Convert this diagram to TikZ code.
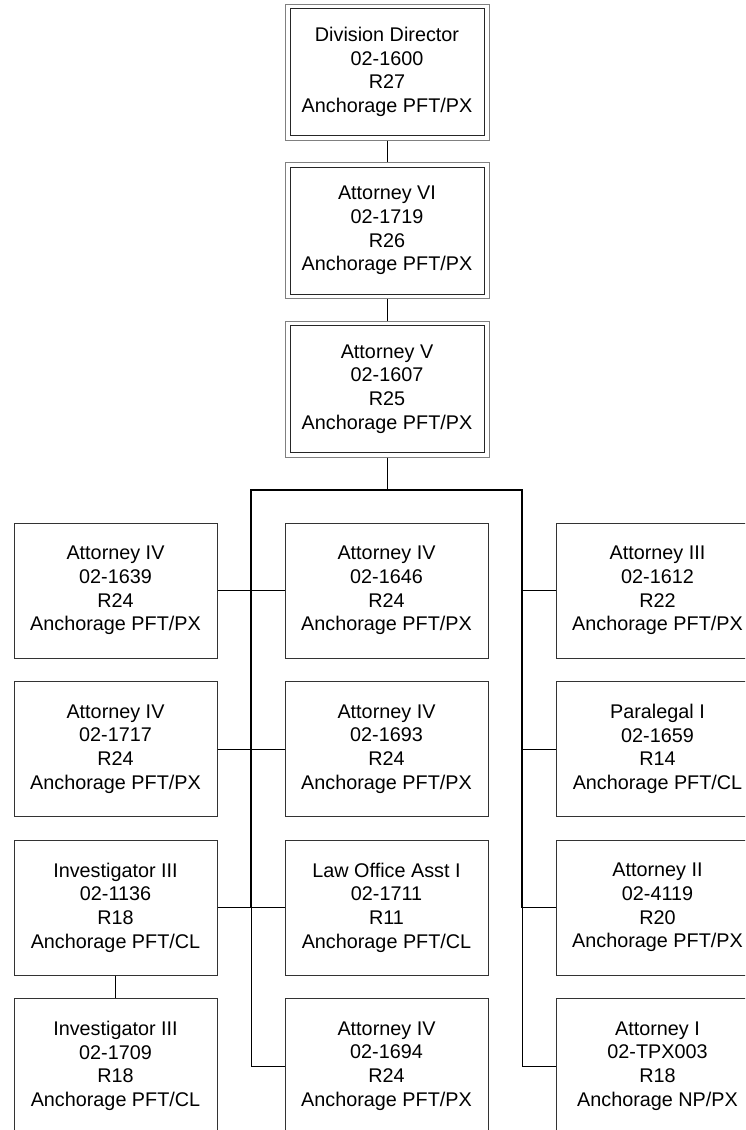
\documentclass[tikz,border=0pt]{standalone}
\usepackage{fontspec}
\setmainfont{Liberation Sans}
\begin{document}
\begin{tikzpicture}[x=1pt,y=-1pt,
  lbl/.style={font=\fontsize{19.8}{23.6}\selectfont, align=center, inner sep=0pt},
  posbox/.style={lbl, draw=black!80, line width=1pt, minimum width=203pt, minimum height=135pt},
  innerbox/.style={lbl, draw=black!85, line width=1pt, minimum width=194pt, minimum height=127pt},
  outerbox/.style={draw=black!50, line width=1pt, minimum width=204pt, minimum height=136pt, inner sep=0pt},
  conn/.style={draw=black, line width=0.9pt},
  bus/.style={draw=black, line width=1.8pt},
  busb/.style={draw=black, line width=1.4pt},
  busc/.style={draw=black, line width=1.1pt}]
\useasboundingbox (0,0) rectangle (745,1130);
\fill[white] (0,0) rectangle (745,1130);
\clip (0,0) rectangle (745,1130);

% top chain
\node[outerbox] (o1) at (387,72) {};
\node[innerbox] (a1) at (387,72) {Division Director\\02-1600\\R27\\Anchorage PFT/PX};
\node[outerbox] (o2) at (387,230.5) {};
\node[innerbox] (a2) at (387,230.5) {Attorney VI\\02-1719\\R26\\Anchorage PFT/PX};
\node[outerbox] (o3) at (387,389) {};
\node[innerbox] (a3) at (387,389) {Attorney V\\02-1607\\R25\\Anchorage PFT/PX};

% left column
\node[posbox] (l1) at (115.5,590.5) {Attorney IV\\02-1639\\R24\\Anchorage PFT/PX};
\node[posbox] (l2) at (115.5,749) {Attorney IV\\02-1717\\R24\\Anchorage PFT/PX};
\node[posbox] (l3) at (115.5,907.5) {Investigator III\\02-1136\\R18\\Anchorage PFT/CL};
\node[posbox] (l4) at (115.5,1066) {Investigator III\\02-1709\\R18\\Anchorage PFT/CL};

% middle column
\node[posbox] (m1) at (386.5,590.5) {Attorney IV\\02-1646\\R24\\Anchorage PFT/PX};
\node[posbox] (m2) at (386.5,749) {Attorney IV\\02-1693\\R24\\Anchorage PFT/PX};
\node[posbox] (m3) at (386.5,907.5) {Law Office Asst I\\02-1711\\R11\\Anchorage PFT/CL};
\node[posbox] (m4) at (386.5,1066) {Attorney IV\\02-1694\\R24\\Anchorage PFT/PX};

% right column
\node[posbox] (r1) at (657.5,590.5) {Attorney III\\02-1612\\R22\\Anchorage PFT/PX};
\node[posbox] (r2) at (657.5,749) {Paralegal I\\02-1659\\R14\\Anchorage PFT/CL};
\node[posbox] (r3) at (657.5,907.5) {Attorney II\\02-4119\\R20\\Anchorage PFT/PX};
\node[posbox] (r4) at (657.5,1066) {Attorney I\\02-TPX003\\R18\\Anchorage NP/PX};

% connectors top chain
\draw[conn] (o1) -- (o2);
\draw[conn] (o2) -- (o3);
\coordinate (top) at (387,490);
\draw[conn] (o3) -- (top);

% bus coordinates
\coordinate (bl) at (251,490);
\coordinate (br) at (522,490);
\coordinate (bl1) at (251,590.5);
\coordinate (bl2) at (251,749);
\coordinate (bl3) at (251,907.5);
\coordinate (bl4) at (251,1066);
\coordinate (br1) at (522,590.5);
\coordinate (br2) at (522,749);
\coordinate (br3) at (522,907.5);
\coordinate (br4) at (522,1066);

% bus (thinner further down, where fewer connectors share it)
\draw[bus, line cap=rect] (bl) -- (br);
\draw[bus] (bl) -- (bl1);
\draw[busb] (bl1) -- (bl2);
\draw[busc] (bl2) -- (bl3);
\draw[conn] (bl3) -- (bl4);
\draw[bus] (br) -- (br1);
\draw[busb] (br1) -- (br2);
\draw[busc] (br2) -- (br3);
\draw[conn] (br3) -- (br4);
\draw[conn] (bl4) -- (m4);
\draw[conn] (br4) -- (r4);

% row connectors
\draw[conn] (l1) -- (m1);
\draw[conn] (l2) -- (m2);
\draw[conn] (l3) -- (m3);
\draw[conn] (br1) -- (r1);
\draw[conn] (br2) -- (r2);
\draw[conn] (br3) -- (r3);
\draw[conn] (l3) -- (l4);
\end{tikzpicture}
\end{document}
